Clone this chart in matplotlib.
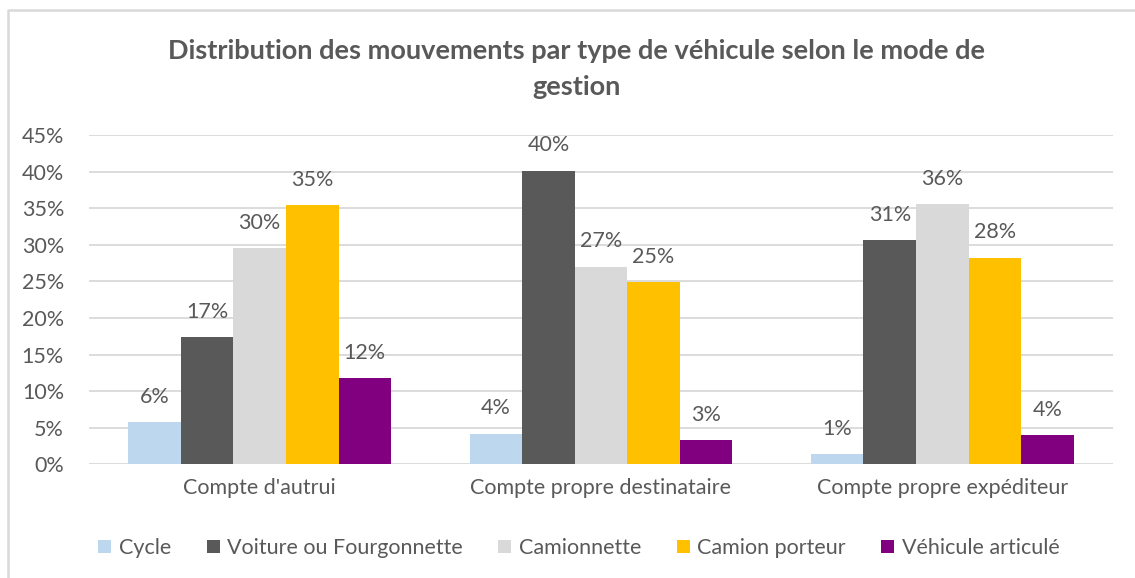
import matplotlib
matplotlib.use("Agg")
import matplotlib.pyplot as plt
import numpy as np
from matplotlib.patches import Patch
from matplotlib.lines import Line2D

plt.rcParams['font.family'] = ['Lato', 'DejaVu Sans']

# Data
categories = ["Compte d'autrui", "Compte propre destinataire", "Compte propre expéditeur"]
series_names = ["Cycle", "Voiture ou Fourgonnette", "Camionnette", "Camion porteur", "Véhicule articulé"]
cycle = [5.74, 4.19, 1.41]
voiture = [17.35, 40.12, 30.65]
camionnette = [29.56, 27.0, 35.57]
camion_porteur = [35.39, 24.91, 28.23]
articule = [11.75, 3.28, 4.0]
yticks = [0, 5, 10, 15, 20, 25, 30, 35, 40, 45]

series_values = [cycle, voiture, camionnette, camion_porteur, articule]
colors = ["#BDD7EE", "#595959", "#D9D9D9", "#FFC000", "#800080"]
text_color = "#595959"
fs = 15.5

W, H = 1135, 578
fig = plt.figure(figsize=(W / 100, H / 100), dpi=100)
fig.patch.set_facecolor("white")

ax = fig.add_axes([89 / W, 1 - 464.3 / H, (1113 - 89) / W, (464.3 - 135) / H])

x = np.arange(len(categories))
bar_w = 0.154
n = len(series_values)
for i, (vals, col) in enumerate(zip(series_values, colors)):
    pos = x + (i - (n - 1) / 2) * bar_w
    bars = ax.bar(pos, vals, width=bar_w, color=col, zorder=3, linewidth=0)
    for b, v in zip(bars, vals):
        ax.annotate(f"{v:.0f}%", (b.get_x() + b.get_width() / 2, v),
                    xytext=(0, 11), textcoords="offset points",
                    ha="center", va="bottom", fontsize=fs, color=text_color)

ax.set_xlim(-0.5, 2.5)
ax.set_ylim(0, 45)
ax.set_yticks(yticks)
ax.set_yticklabels([f"{t}%" for t in yticks])
ax.set_xticks(x)
ax.set_xticklabels(categories)
ax.tick_params(axis="both", length=0, labelsize=fs, colors=text_color)
ax.tick_params(axis="x", pad=10)
ax.tick_params(axis="y", pad=18)
ax.grid(axis="y", color="#D9D9D9", linewidth=1.3, zorder=0)
for s in ax.spines.values():
    s.set_visible(False)

fig.text(577 / W, 1 - 69 / H,
         "Distribution des mouvements par type de véhicule selon le mode de\ngestion",
         ha="center", va="center", fontsize=19.5, fontweight="bold",
         color=text_color, linespacing=1.6)

handles = [Patch(facecolor=c, edgecolor="none") for c in colors]
fig.legend(handles, series_names, loc="center", bbox_to_anchor=(579 / W, 1 - 548 / H),
           ncol=5, frameon=False, fontsize=fs, handlelength=0.6, handleheight=0.6,
           handletextpad=0.35, columnspacing=1.65, labelcolor=text_color)

# Chart area border (left and top edges)
fig.add_artist(Line2D([8 / W, 8 / W, 1], [0, 1 - 10 / H, 1 - 10 / H],
                      transform=fig.transFigure, color="#D9D9D9", linewidth=1.8))

fig.savefig("out.png", dpi=100)
